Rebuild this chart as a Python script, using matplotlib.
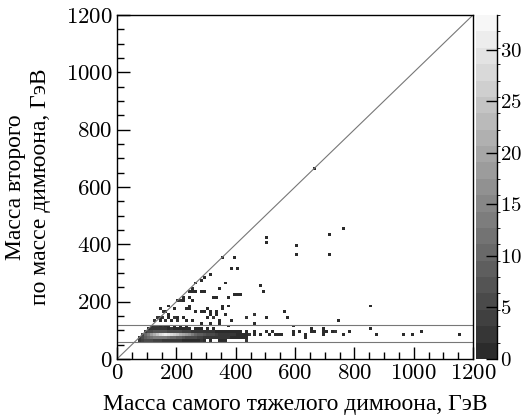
import numpy as np
import matplotlib
matplotlib.use("Agg")
import matplotlib.pyplot as plt
from matplotlib.colors import ListedColormap, BoundaryNorm

plt.rcParams['font.family'] = ['cmr10', 'Liberation Serif']
plt.rcParams['axes.formatter.use_mathtext'] = True

# bin size 10 GeV, bins given by lower edge
bin_w = 10
x_max = 1200

# dense band: counts per 10 GeV x-bin starting at x = 70, rows by lower edge in y
band_x0 = 70
band_rows = {
    60: [2, 4, 5, 5, 5, 4, 4, 4, 3, 3, 3, 2, 2, 2, 2, 1, 1, 1, 1, 1, 1, 1, 1, 0, 1, 0, 0, 1, 0, 1, 0, 0, 0, 0, 0, 0, 1],
    70: [2, 6, 8, 10, 12, 13, 14, 14, 14, 13, 12, 11, 10, 9, 8, 7, 6, 6, 5, 5, 4, 4, 3, 3, 3, 2, 2, 2, 2, 2, 2, 1, 1, 1, 1, 1, 1],
    80: [0, 4, 10, 14, 18, 22, 25, 28, 30, 31, 30, 28, 26, 24, 22, 20, 18, 16, 14, 11, 9, 8, 7, 6, 5, 5, 4, 3, 3, 2, 2, 2, 2, 1, 1, 1, 1, 1, 0, 1],
    90: [0, 0, 3, 5, 6, 7, 7, 7, 7, 7, 6, 6, 5, 5, 5, 4, 4, 4, 3, 3, 3, 2, 2, 2, 2, 2, 1, 1, 1, 1, 1, 1, 1, 1, 1, 0, 1],
    100: [0, 0, 0, 1, 2, 2, 3, 2, 2, 2, 1, 2, 1, 1, 1, 1, 1, 1, 0, 1, 1, 1, 0, 1, 0, 1],
    110: [0, 0, 0, 0, 1, 2, 2, 1, 2, 1, 1, 0, 1, 0, 1, 0, 1],
}

# scattered cells: (x, y, count), GeV
cells = [
    (145, 171, 1), (156, 165, 2), (167, 165, 1), (173, 153, 1),
    (134, 145, 2), (145, 145, 1), (156, 145, 3), (173, 145, 1), (190, 145, 2), (207, 145, 1), (229, 145, 1),
    (122, 130, 2), (140, 130, 1), (167, 130, 3), (184, 130, 1), (207, 130, 2), (235, 130, 1), (252, 130, 1),
    (179, 183, 1), (195, 177, 1), (207, 200, 1), (218, 200, 2), (229, 200, 1),
    (229, 217, 1), (240, 212, 1), (246, 230, 1), (257, 230, 1), (269, 235, 1), (280, 235, 1), (297, 230, 1),
    (240, 188, 1), (246, 177, 1), (235, 171, 1), (257, 247, 1), (269, 264, 1), (280, 276, 1), (291, 287, 1),
    (317, 299, 1), (330, 167, 1), (313, 157, 1), (302, 177, 1), (269, 169, 1), (280, 169, 1), (291, 169, 1),
    (353, 171, 1), (361, 159, 1), (381, 130, 1), (300, 140, 1), (320, 140, 1), (340, 135, 1),
    (257, 200, 1), (336, 212, 1),
    (355, 359, 1), (392, 359, 1), (384, 319, 1), (403, 319, 1), (364, 267, 1), (344, 249, 1),
    (325, 217, 1), (370, 217, 1), (398, 220, 1), (403, 229, 1), (415, 229, 1), (488, 258, 1), (493, 235, 1),
    (434, 145, 1), (463, 159, 1), (501, 408, 1), (504, 429, 1), (603, 398, 1), (603, 369, 1),
    (715, 438, 1), (715, 367, 1), (763, 458, 1), (660, 660, 1), (565, 168, 1), (574, 145, 1),
    (855, 186, 1), (744, 136, 1), (594, 115, 1),
    (373, 188, 1), (358, 180, 1), (313, 168, 1), (333, 157, 1), (325, 148, 1), (431, 148, 1),
    (465, 157, 1), (505, 148, 1), (280, 124, 1), (313, 124, 1), (341, 124, 1), (373, 115, 1), (465, 122, 1),
    (280, 66, 1), (353, 66, 1), (431, 66, 1),
    (440, 85, 1), (460, 90, 1), (480, 85, 1), (500, 95, 1), (521, 90, 1),
    (518, 88, 1), (530, 88, 1), (545, 88, 1), (558, 87, 1), (594, 98, 1), (594, 87, 1), (611, 95, 1),
    (630, 84, 1), (630, 76, 1), (650, 105, 1), (658, 99, 1), (664, 99, 1), (690, 103, 1), (690, 87, 1),
    (695, 98, 1), (701, 98, 1), (724, 99, 1), (731, 99, 1), (737, 99, 1), (763, 87, 1), (783, 95, 1),
    (855, 105, 1), (875, 87, 1), (965, 87, 1), (995, 87, 1), (1027, 98, 1), (1156, 87, 1),
]

cut_lines = [60, 120]
z_levels = 20
z_top = 31.8
z_axis_max = 33.2

n = x_max // bin_w
H = np.zeros((n, n))
for y0, row in band_rows.items():
    for i, c in enumerate(row):
        H[y0 // bin_w, band_x0 // bin_w + i] += c
for x, y, c in cells:
    H[int(y) // bin_w, int(x) // bin_w] += c
H = np.ma.masked_equal(H, 0)

grays = np.linspace(0.17, 0.93, z_levels)
cmap = ListedColormap([(g, g, g) for g in grays] + [(0.97, 0.97, 0.97)])
bounds = list(np.linspace(0, z_top, z_levels + 1)) + [z_axis_max]
norm = BoundaryNorm(bounds, cmap.N)

fig = plt.figure(figsize=(5.26, 4.17), dpi=100)
ax = fig.add_axes([117 / 526, 58 / 417, 356 / 526, 344 / 417])
edges = np.arange(0, x_max + bin_w, bin_w)
mesh = ax.pcolormesh(edges, edges, H, cmap=cmap, norm=norm)

ax.plot([0, x_max], [0, x_max], color='#777777', lw=0.8)
for yc in cut_lines:
    ax.axhline(yc, color='#777777', lw=0.8)

ax.set_xlim(0, x_max)
ax.set_ylim(0, x_max)
ax.set_xticks(np.arange(0, 1201, 200))
ax.set_yticks(np.arange(0, 1201, 200))
ax.set_xticks(np.arange(0, 1201, 50), minor=True)
ax.set_yticks(np.arange(0, 1201, 50), minor=True)
ax.tick_params(which='both', direction='in', top=False, right=False, width=1)
ax.tick_params(which='major', length=9, labelsize=16.5, pad=3)
ax.tick_params(which='minor', length=5)
for sp in ax.spines.values():
    sp.set_linewidth(1.0)

lab_font = dict(family='Liberation Serif', fontsize=17)
ax.set_xlabel('Масса самого тяжелого димюона, ГэВ', labelpad=8, **lab_font)
ax.set_ylabel('Масса второго\nпо массе димюона, ГэВ', labelpad=11, linespacing=1.2, **lab_font)

cax = fig.add_axes([476 / 526, 58 / 417, 21 / 526, 344 / 417])
cb = fig.colorbar(mesh, cax=cax, ticks=np.arange(0, 31, 5))
cb.outline.set_visible(False)
cax.set_ylim(0, z_axis_max)
cax.spines['right'].set_visible(True)
cax.spines['right'].set_linewidth(1.0)
cax.tick_params(direction='in', length=8, width=1, labelsize=15, pad=2)

fig.savefig('out.png', dpi=100)
